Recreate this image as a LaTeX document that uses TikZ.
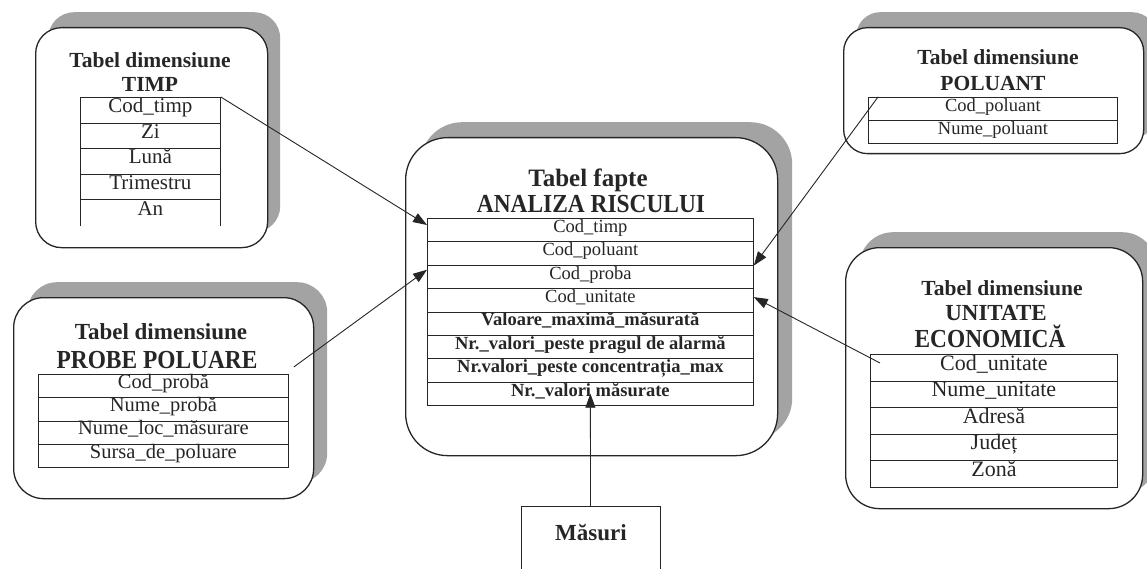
\documentclass[tikz,border=0pt]{standalone}
\usepackage{fontspec}
\setmainfont{Liberation Serif}
\newfontfamily\condserif[FakeStretch=0.9]{Liberation Serif}
\usetikzlibrary{arrows.meta,calc}
\newcommand{\fsz}[1]{\fontsize{#1}{#1}\selectfont}
\begin{document}
\begin{tikzpicture}[x=1pt,y=-1pt,
  ink/.style={black!85},
  shadowbox/.style={draw=none, fill=black!36, inner sep=0pt, anchor=north west},
  frontbox/.style={draw=black!85, line width=1.3pt, fill=white, inner sep=0pt, anchor=north west},
  cell/.style={draw=black!85, line width=0.8pt, inner sep=0pt, anchor=north west, text=black!85, text height=0.7em, text depth=0.22em},
  ttl/.style={font=\bfseries, inner sep=0pt, anchor=base, text=black!85},
  arr/.style={-{Triangle[length=14pt,width=10pt]}, line width=0.9pt, draw=black!85}
]
\useasboundingbox (0,0) rectangle (1147,569);
\clip (0,0) rectangle (1147,569);
\fill[white] (0,0) rectangle (1147,569);

% ---------- TIMP ----------
\node[shadowbox, rounded corners=26pt, minimum width=232pt, minimum height=220pt] (timpsh) at (48,12) {};
\node[frontbox, rounded corners=26pt, minimum width=232pt, minimum height=220pt] (timpbox) at (35,27) {};
\node[ttl, font=\bfseries\fsz{21.5}] (timpt1) at (150,68) {Tabel dimensiune};
\node[ttl, font=\bfseries\fsz{21.5}] (timpt2) at (150,92) {TIMP};
\tikzset{tcell/.style={cell, minimum width=140pt, minimum height=25.6pt, font=\fsz{21}}}
\node[tcell] (t1) at (80,97) {Cod\_timp};
\node[tcell] (t2) at (80,122.6) {Zi};
\node[tcell] (t3) at (80,148.2) {Lună};
\node[tcell] (t4) at (80,173.8) {Trimestru};
\node[tcell, draw=none] (t5) at (80,199.4) {An};
\draw[ink, line width=0.8pt] (t5.south west) -- (t5.north west);
\draw[ink, line width=0.8pt] (t5.south east) -- (t5.north east);

% ---------- POLUANT ----------
\node[shadowbox, rounded corners=24pt, minimum width=300pt, minimum height=126pt] (polsh) at (856,12) {};
\node[frontbox, rounded corners=24pt, minimum width=300pt, minimum height=126pt] (polbox) at (843,27) {};
\node[ttl, font=\bfseries\fsz{21.5}] (polt1) at (998,65) {Tabel dimensiune};
\node[ttl, font=\bfseries\fsz{21.5}] (polt2) at (993,91) {POLUANT};
\tikzset{pcell/.style={cell, minimum width=249pt, minimum height=23pt, font=\fsz{18.5}}}
\node[pcell] (p1) at (868,97) {Cod\_poluant};
\node[pcell] (p2) at (868,120) {Nume\_poluant};

% ---------- ANALIZA RISCULUI ----------
\node[shadowbox, rounded corners=42pt, minimum width=372pt, minimum height=318pt] (csh) at (420,122) {};
\node[frontbox, rounded corners=42pt, minimum width=372pt, minimum height=318pt] (cbox) at (405,137) {};
\node[ttl, font=\bfseries\fsz{25}] (ct1) at (588,187) {Tabel fapte};
\node[ttl, font=\condserif\bfseries\fsz{26}] (ct2) at (591,213) {ANALIZA RISCULUI};
\tikzset{ccell/.style={cell, minimum width=326pt, minimum height=23.375pt, font=\fsz{18.5}},
         bcell/.style={ccell, font=\bfseries\fsz{18.5}}}
\node[ccell] (c1) at (427,218) {Cod\_timp};
\node[ccell] (c2) at (427,241.375) {Cod\_poluant};
\node[ccell] (c3) at (427,264.75) {Cod\_proba};
\node[ccell] (c4) at (427,288.125) {Cod\_unitate};
\node[bcell] (c5) at (427,311.5) {Valoare\_maximă\_măsurată};
\node[bcell] (c6) at (427,334.875) {Nr.\_valori\_peste pragul de alarmă};
\node[bcell] (c7) at (427,358.25) {Nr.valori\_peste concentrația\_max};
\node[bcell] (c8) at (427,381.625) {Nr.\_valori măsurate};

% ---------- PROBE POLUARE ----------
\node[shadowbox, rounded corners=30pt, minimum width=300pt, minimum height=201pt] (prsh) at (27,282) {};
\node[frontbox, rounded corners=30pt, minimum width=300pt, minimum height=201pt] (prbox) at (13,297) {};
\node[ttl, font=\bfseries\fsz{23}] (prt1) at (161,339) {Tabel dimensiune};
\node[ttl, font=\condserif\bfseries\fsz{26}] (prt2) at (157,368) {PROBE POLUARE};
\tikzset{rcell/.style={cell, minimum width=250pt, minimum height=23.25pt, font=\fsz{20.5}}}
\node[rcell] (r1) at (38,374) {Cod\_probă};
\node[rcell] (r2) at (38,397.25) {Nume\_probă};
\node[rcell] (r3) at (38,420.5) {Nume\_loc\_măsurare};
\node[rcell] (r4) at (38,443.75) {Sursa\_de\_poluare};

% ---------- UNITATE ECONOMICA ----------
\node[shadowbox, rounded corners=34pt, minimum width=297pt, minimum height=261pt] (ush) at (859,232) {};
\node[frontbox, rounded corners=34pt, minimum width=297pt, minimum height=261pt] (ubox) at (845,247) {};
\node[ttl, font=\bfseries\fsz{21.5}] (ut1) at (1002,295) {Tabel dimensiune};
\node[ttl, font=\bfseries\fsz{23}] (ut2) at (996,320) {UNITATE};
\node[ttl, font=\condserif\bfseries\fsz{26}] (ut3) at (990,347) {ECONOMICĂ};
\tikzset{ucell/.style={cell, minimum width=247pt, minimum height=26.6pt, font=\fsz{22}}}
\node[ucell] (u1) at (870,354) {Cod\_unitate};
\node[ucell] (u2) at (870,380.6) {Nume\_unitate};
\node[ucell] (u3) at (870,407.2) {Adresă};
\node[ucell] (u4) at (870,433.8) {Județ};
\node[ucell] (u5) at (870,460.4) {Zonă};

% ---------- MASURI ----------
\node[draw=black!85, line width=1pt, inner sep=0pt, anchor=north, minimum width=139pt, minimum height=90pt] (m) at (590.5,506) {};
\node[ttl, font=\bfseries\fsz{23}] (mt) at (591,540) {Măsuri};

% ---------- connectors ----------
\coordinate (timpstart) at (t1.north east);
\coordinate (polstart) at ($(p1.north west)+(10,0)$);
\coordinate (prstart) at ($(r1.north east)+(5,-7)$);
\coordinate (ustart) at ($(u1.north west)+(10,9)$);
\draw[arr] (timpstart) -- ($(c1.north west)+(0,7)$);
\draw[arr] (polstart) -- (c2.south east);
\draw[arr] (prstart) -- ($(c3.north west)+(0,5)$);
\draw[arr] (ustart) -- ($(c4.north east)+(0,9)$);
\draw[arr] (m.north) -- (c8.center);
\end{tikzpicture}
\end{document}
